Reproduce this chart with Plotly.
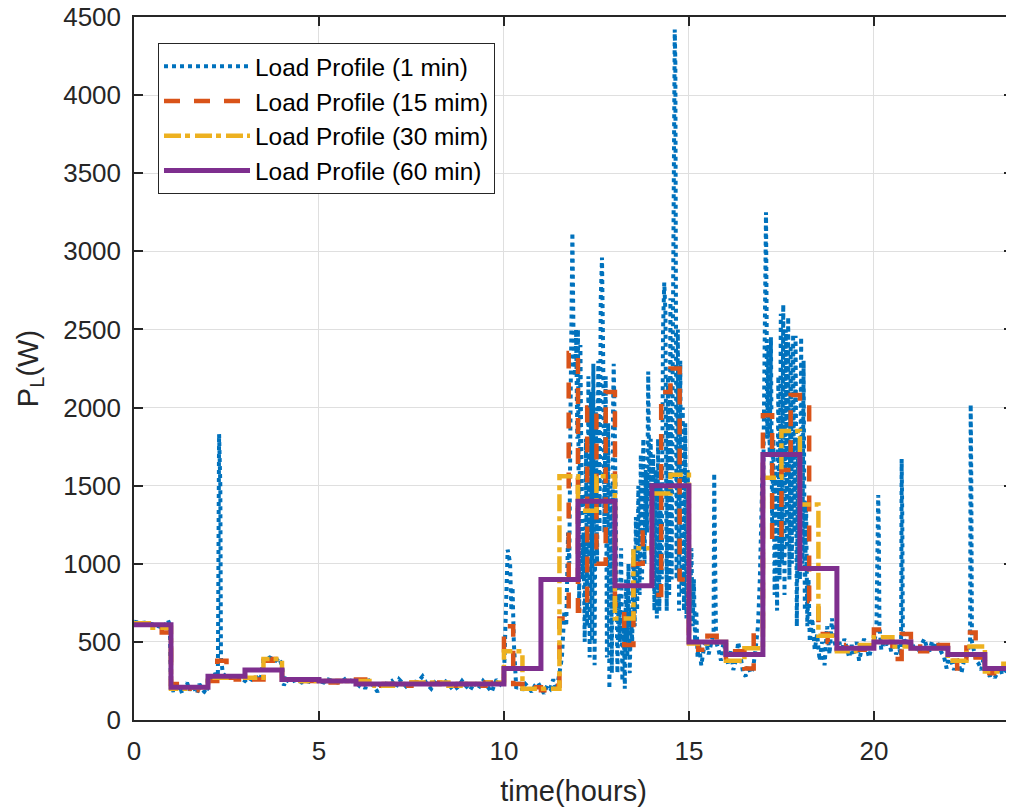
import plotly.graph_objects as go

# ---------------- data ----------------
# 1-min profile, vertices (time in minutes, power in W)
t1_min = [0, 10, 20, 30, 40, 48, 55, 58, 60,
          63, 66, 70, 74, 78, 82, 86, 90, 94, 98, 102, 106, 110, 114, 118, 120,
          124, 128, 132, 136, 138, 140, 141, 144, 150, 156, 162, 170, 176, 180,
          185, 190, 195, 200, 205, 210, 215, 220, 225, 230, 235, 240,
          243, 247, 252, 258, 265, 272, 280, 288, 295, 300,
          308, 315, 322, 330, 338, 345, 352, 360,
          365, 370, 375, 380, 388, 395, 402, 410, 418,
          425, 430, 438, 445, 452, 460, 468, 475,
          482, 488, 495, 502, 510, 518, 525, 532, 538,
          545, 552, 558, 566, 572, 580, 588, 594, 600,
          602, 604, 606, 608, 610, 612, 614, 616, 618, 620,
          625, 630, 635, 640, 645, 650, 655, 660, 665, 670, 675, 680, 685,
          690, 694, 698, 701, 704, 706, 708, 710, 711, 713, 715, 717, 719, 720,
          721, 722, 724, 725, 727, 729, 731, 733, 735, 737, 739, 741, 743, 745, 747, 749,
          751, 753, 755, 757, 759, 761, 763, 765, 767, 769, 771, 773, 775, 777, 778, 780,
          782, 784, 786, 788, 790, 792, 794, 796, 798, 800, 802, 804, 806, 808, 810,
          812, 814, 816, 818, 820, 822, 824, 826, 828, 830, 832, 834, 836, 838, 840,
          842, 844, 846, 848, 850, 852, 854, 856, 858, 860, 862, 864, 866, 868, 870,
          872, 874, 876, 877, 878, 879, 880, 882, 884, 886, 888, 890, 892, 894, 896, 898, 900,
          902, 904, 906, 908, 910, 912, 914, 916, 920, 924, 928, 932, 936, 940, 941, 942,
          944, 948, 952, 956, 960,
          964, 968, 972, 976, 980, 984, 988, 992, 996, 1000, 1004, 1008, 1012, 1015, 1017,
          1019, 1020,
          1022, 1025, 1026, 1027, 1029, 1031, 1033, 1035, 1037, 1039, 1041, 1043, 1045,
          1047, 1049, 1051, 1053, 1055, 1057, 1059, 1061, 1063, 1065, 1067, 1069, 1071,
          1073, 1075, 1077, 1080,
          1082, 1084, 1086, 1088, 1090, 1092, 1094, 1096, 1100, 1104, 1108, 1112, 1116,
          1120, 1124, 1128, 1132, 1136, 1140,
          1144, 1148, 1152, 1156, 1160, 1164, 1168, 1172, 1176, 1180, 1184, 1188, 1192,
          1196, 1200,
          1204, 1207, 1208, 1209, 1212, 1216, 1220, 1224, 1228, 1232, 1236, 1240, 1244,
          1245, 1246, 1247, 1250, 1254, 1258,
          1262, 1266, 1270, 1274, 1278, 1282, 1286, 1290, 1294, 1298, 1302, 1306, 1310,
          1314, 1318, 1322, 1326, 1330, 1334, 1338, 1342, 1346, 1350, 1356, 1357, 1358,
          1359, 1362, 1366, 1370, 1374, 1378, 1380,
          1384, 1388, 1392, 1396, 1400, 1404, 1408, 1412, 1416, 1420, 1424, 1428, 1432,
          1436, 1439]
p1 = [630, 620, 625, 610, 600, 590, 640, 610, 210,
      180, 230, 190, 220, 170, 210, 240, 190, 220, 200, 170, 230, 200, 180, 170, 260,
      280, 260, 300, 280, 1830, 1500, 400, 300, 270, 280, 260, 270, 260, 250,
      270, 260, 250, 270, 250, 380, 390, 400, 390, 380, 400, 350,
      220, 260, 240, 250, 260, 240, 250, 240, 260, 250,
      240, 260, 250, 240, 250, 270, 250, 240,
      220, 250, 200, 260, 220, 180, 240, 230, 250,
      210, 260, 230, 200, 250, 240, 280, 230,
      200, 240, 220, 260, 230, 190, 210, 250, 220,
      190, 240, 200, 250, 220, 180, 260, 230, 270,
      600, 900, 1090, 1050, 1000, 700, 850, 500, 300, 200,
      240, 190, 230, 210, 180, 220, 240, 200, 170, 220, 200, 260, 190,
      300, 400, 700, 600, 1200, 1000, 2000, 2500, 3120, 2400, 2200, 2500, 1800, 2500,
      1500, 700, 2400, 1600, 900, 1200, 500, 1800, 600, 2200, 400, 2100, 500, 2280, 350, 2000,
      1000, 2300, 1200, 2700, 2960, 2300, 1200, 2200, 400, 1900, 200, 1500, 300, 2000, 2280, 1800,
      1000, 300, 800, 500, 1100, 250, 700, 200, 900, 400, 1000, 300, 700, 500, 1100,
      600, 1300, 700, 1500, 800, 1700, 900, 1800, 1000, 1600, 1200, 2230, 1400, 1800, 1000,
      1700, 700, 1600, 650, 1800, 700, 1500, 900, 2500, 2800, 2600, 700, 2200, 800, 2700,
      900, 2500, 3500, 4420, 4200, 2500, 900, 2500, 700, 2300, 800, 2000, 700, 1900, 650, 1600, 1100,
      700, 1100, 600, 900, 500, 700, 400, 500, 350, 450, 500, 420, 480, 560, 1580, 1200,
      500, 450, 380, 500, 420,
      350, 450, 320, 380, 500, 400, 300, 280, 350, 300, 330, 450, 600, 900, 1200,
      1550, 1300,
      2000, 3250, 2600, 1800, 2400, 1700, 2450, 1200, 1800, 800, 1600, 700, 2200,
      900, 2600, 1000, 2660, 800, 2500, 1100, 2580, 900, 2400, 1000, 2470, 1200,
      2460, 600, 1800, 900,
      2450, 1000, 2300, 700, 1400, 600, 900, 500, 650, 450, 550, 380, 500,
      350, 600, 420, 650, 500, 450,
      500, 430, 520, 460, 400, 480, 420, 500, 380, 450, 520, 470, 400,
      460, 500,
      560, 1440, 1200, 600, 450, 500, 480, 520, 440, 500, 420, 480, 410,
      1670, 1300, 550, 480, 520, 460,
      500, 440, 480, 430, 490, 520, 460, 440, 500, 470, 500, 460, 430,
      400, 330, 420, 370, 320, 400, 350, 300, 380, 400, 500, 2020, 1500,
      500, 440, 380, 360, 320, 400, 330,
      300, 280, 320, 270, 300, 340, 290, 310, 350, 330, 300, 360, 340,
      320, 330]

# 15-min averages (96 values)
p15 = [620, 615, 600, 560, 230, 200, 210, 190, 250, 380, 270, 260,
       270, 260, 380, 390, 260, 250, 250, 250, 245, 240, 250, 255,
       260, 230, 220, 230, 230, 220, 240, 250, 230, 240, 220, 230,
       230, 220, 240, 230, 600, 230, 200, 210, 190, 220, 650, 2350,
       700, 2000, 1000, 2100, 740, 480, 1000, 1200, 800, 2100, 2250, 900,
       520, 450, 540, 480, 380, 440, 330, 560, 1950, 1150, 1600, 2080,
       2000, 760, 550, 500, 450, 480, 450, 460, 580, 500, 390, 550,
       470, 440, 460, 480, 380, 330, 560, 400, 300, 320, 350, 360]

# 30-min averages (48 values)
p30 = [620, 590, 200, 210, 270, 280, 270, 390, 260, 250, 250, 250,
       250, 220, 230, 240, 240, 220, 230, 240, 440, 200, 200, 1560,
       1340, 1560, 650, 1100, 1450, 1570, 490, 500, 380, 460, 1550, 1850,
       1380, 540, 440, 480, 530, 470, 460, 460, 380, 470, 310, 360]

# 60-min averages (24 values)
p60 = [610, 210, 280, 320, 260, 250, 230, 230, 230, 230, 330, 900,
       1400, 860, 1500, 500, 420, 1700, 970, 460, 500, 460, 420, 330]

series_names = ["Load Profile (1 min)", "Load Profile (15 mim)",
                "Load Profile (30 mim)", "Load Profile (60 min)"]
x_ticks = [0, 5, 10, 15, 20]
y_ticks = [0, 500, 1000, 1500, 2000, 2500, 3000, 3500, 4000, 4500]


def step_xy(vals, minutes):
    xs = [i * minutes / 60 for i in range(len(vals) + 1)]
    ys = list(vals) + [vals[-1]]
    return xs, ys


t1 = [m / 60 for m in t1_min]
x15, y15 = step_xy(p15, 15)
x30, y30 = step_xy(p30, 30)
x60, y60 = step_xy(p60, 60)

FONT = "Liberation Sans, Arial, Helvetica, sans-serif"
TXT = "#262626"

fig = go.Figure()
fig.add_trace(go.Scatter(x=t1, y=p1, mode="lines", name=series_names[0],
                         line=dict(color="#0072BD", width=4, dash="4px,4px")))
fig.add_trace(go.Scatter(x=x15, y=y15, mode="lines", name=series_names[1], line_shape="hv",
                         line=dict(color="#D95319", width=4.5, dash="16px,14px")))
fig.add_trace(go.Scatter(x=x30, y=y30, mode="lines", name=series_names[2], line_shape="hv",
                         line=dict(color="#EDB120", width=4.5, dash="17px,4px,5px,5px")))
fig.add_trace(go.Scatter(x=x60, y=y60, mode="lines", name=series_names[3], line_shape="hv",
                         line=dict(color="#7E2F8E", width=5)))

axis_common = dict(showline=True, linecolor=TXT, linewidth=1.5, mirror="ticks",
                   ticks="inside", ticklen=9, tickwidth=1.5, tickcolor=TXT,
                   showgrid=True, gridcolor="#dfdfdf", gridwidth=1, zeroline=False,
                   automargin=False, ticklabeloverflow="allow",
                   tickfont=dict(family=FONT, size=26, color=TXT))

fig.update_xaxes(range=[0, 23.76], tickvals=x_ticks, ticklabelstandoff=7,
                 title=dict(text="time(hours)", font=dict(family=FONT, size=29, color=TXT),
                            standoff=17),
                 **axis_common)
fig.update_yaxes(range=[0, 4500], tickvals=y_ticks, ticklabelstandoff=6,
                 title=dict(text="P<sub>L</sub>(W)", font=dict(family=FONT, size=29, color=TXT),
                            standoff=16),
                 **axis_common)

# the page places the figure 8 px from the top-left corner, so the figure is
# 8 px smaller and its margins are reduced accordingly
fig.update_layout(
    width=1006, height=799,
    margin=dict(l=126, r=1, t=9, b=87),
    paper_bgcolor="white", plot_bgcolor="white",
    font=dict(family=FONT, color=TXT),
    showlegend=True,
    legend=dict(x=0.0273, y=0.963, xanchor="left", yanchor="top",
                bgcolor="white", bordercolor=TXT, borderwidth=1,
                font=dict(family=FONT, size=24.4, color="#000000"),
                itemwidth=86, tracegroupgap=0),
)

fig.write_html("out.html")
